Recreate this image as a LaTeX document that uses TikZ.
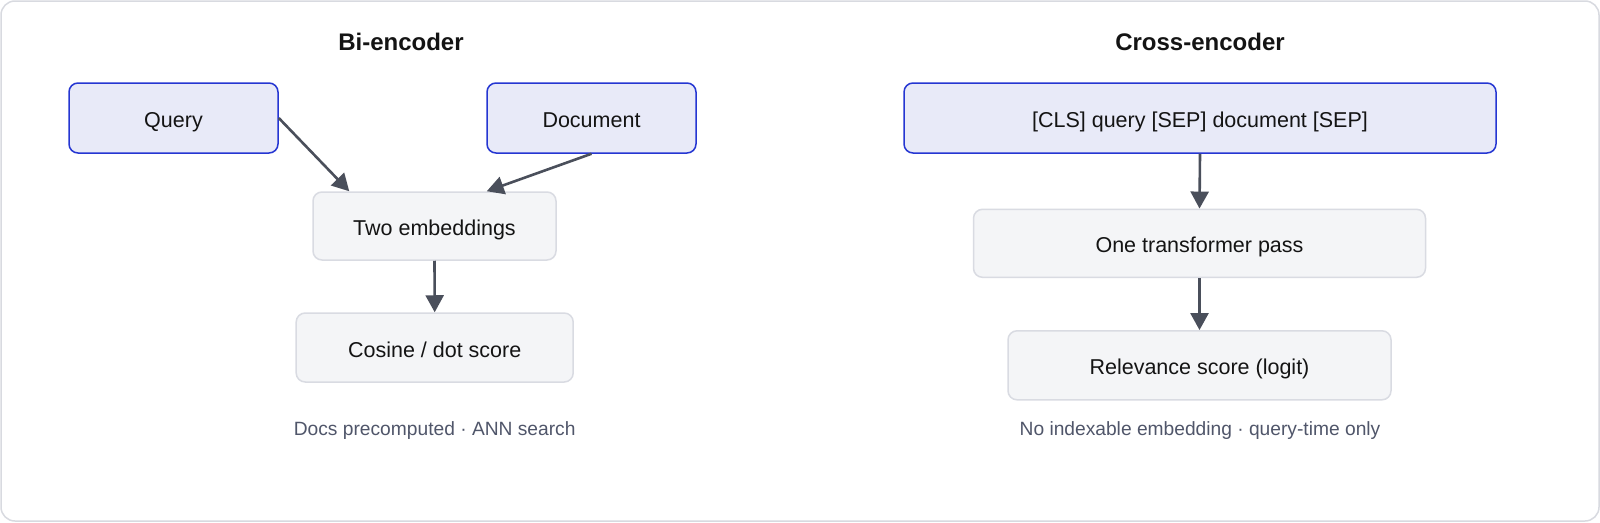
\documentclass[tikz,border=0pt]{standalone}
\usepackage{fontspec}
\setmainfont{Liberation Sans}
\usetikzlibrary{arrows.meta}
\definecolor{bluefill}{HTML}{E8EAF8}
\definecolor{blueline}{HTML}{2536D2}
\definecolor{grayfill}{HTML}{F4F5F7}
\definecolor{grayline}{HTML}{D9DBE2}
\definecolor{arrowcol}{HTML}{4A4F5B}
\definecolor{captioncol}{HTML}{50566A}
\definecolor{textcol}{HTML}{141414}
\definecolor{framecol}{HTML}{D8DAE0}
\tikzset{
  box/.style={rectangle, rounded corners=9pt, line width=1.5pt, inner sep=0pt,
    text height=19pt, text depth=0pt,
    text=textcol, font=\fontsize{21.5}{26}\selectfont},
  inbox/.style={box, fill=bluefill, draw=blueline},
  midbox/.style={box, fill=grayfill, draw=grayline},
  titletext/.style={font=\fontsize{24}{28}\selectfont\bfseries, text=textcol, inner sep=0pt},
  captiontext/.style={font=\fontsize{19.2}{23}\selectfont, text=captioncol, inner sep=0pt,
    text height=14pt, text depth=0pt},
  arr/.style={draw=arrowcol, line width=2.6pt, -{Triangle[length=17pt,width=18pt]}, shorten >=0pt}
}
\begin{document}
\begin{tikzpicture}[x=1pt,y=-1pt]
\useasboundingbox (0,0) rectangle (1600,522);
\draw[framecol, line width=1.5pt, rounded corners=14pt, fill=white] (1,1) rectangle (1599,521);

% Bi-encoder
\node[titletext] (t1) at (401,41.8) {Bi-encoder};
\node[inbox, minimum width=209pt, minimum height=70pt] (q) at (173.5,118) {Query};
\node[inbox, minimum width=209pt, minimum height=70pt] (d) at (591.5,118) {Document};
\node[midbox, minimum width=243pt, minimum height=68pt] (two) at (434.5,226) {Two embeddings};
\node[midbox, minimum width=277pt, minimum height=69pt] (cos) at (434.7,347.5) {Cosine / dot score};
\node[captiontext] (c1) at (434.7,428.6) {Docs precomputed · ANN search};

\draw[arr] (q.east) -- ([xshift=37pt]two.north west);
\draw[arr] (d.south) -- ([xshift=-70pt]two.north east);
\draw[arr] (two.south) -- (cos.north);

% Cross-encoder
\node[titletext] (t2) at (1200,41.8) {Cross-encoder};
\node[inbox, minimum width=592pt, minimum height=70pt] (cls) at (1200,118) {[CLS] query [SEP] document [SEP]};
\node[midbox, minimum width=452pt, minimum height=68pt] (one) at (1199.5,243.3) {One transformer pass};
\node[midbox, minimum width=383pt, minimum height=69pt] (rel) at (1199.5,365.3) {Relevance score (logit)};
\node[captiontext] (c2) at (1200,428.6) {No indexable embedding · query-time only};

\draw[arr] (cls.south) -- (one.north);
\draw[arr] (one.south) -- (rel.north);
\end{tikzpicture}
\end{document}
